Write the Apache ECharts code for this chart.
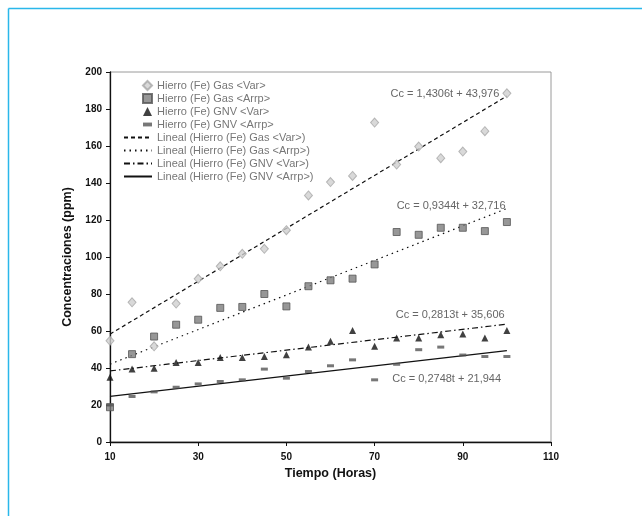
<!DOCTYPE html>
<html>
<head>
<meta charset="utf-8">
<script src="https://cdn.jsdelivr.net/npm/echarts@6/dist/echarts.min.js"></script>
<style>
html,body{margin:0;padding:0;background:#fff;}
#c{width:642px;height:516px;}
</style>
</head>
<body>
<div id="c"></div>
<script>
// ---- data ----
var tHours = [10,15,20,25,30,35,40,45,50,55,60,65,70,75,80,85,90,95,100];
var gasVar  = [54.7,75.5,51.7,74.8,88.2,95,101.7,104.4,114.5,133.3,140.5,143.8,172.7,150,159.7,153.4,157,168,188.5];
var gasArrp = [18.8,47.5,57,63.4,66.1,72.5,73,80,73.3,84.2,87.4,88.3,96,113.5,112,115.8,115.8,114,118.9];
var gnvVar  = [35,39.4,39.9,43,43,45.7,45.7,46.2,47.2,51.3,54.4,60.3,51.7,56.2,56.2,58,58.4,56.2,60.3];
var gnvArrp = [20,24.6,27.1,29.6,31.4,32.7,33.6,39.4,34.5,38.1,41.2,44.4,33.6,42,49.9,51.3,47,46.2,46.2];

var trendT = [10, 100];
var trendGasVar  = [58.3, 187.0];
var trendGasArrp = [42.1, 126.2];
var trendGnvVar  = [38.4, 63.7];
var trendGnvArrp = [24.7, 49.4];

var seriesNames = [
  'Hierro (Fe) Gas <Var>',
  'Hierro (Fe) Gas <Arrp>',
  'Hierro (Fe) GNV <Var>',
  'Hierro (Fe) GNV <Arrp>',
  'Lineal (Hierro (Fe) Gas <Var>)',
  'Lineal (Hierro (Fe) Gas <Arrp>)',
  'Lineal (Hierro (Fe) GNV <Var>)',
  'Lineal (Hierro (Fe) GNV <Arrp>)'
];
var equations = ['Cc = 1,4306t + 43,976','Cc = 0,9344t + 32,716','Cc = 0,2813t + 35,606','Cc = 0,2748t + 21,944'];
var eqAnchor = [[73.6,188],[75,127.4],[74.8,68.8],[74,34]];

var xTicks = {min:10, max:110, interval:20};
var yTicks = {min:0, max:200, interval:20};

function zip(xs, ys){ return xs.map(function(x,i){ return [x, ys[i]]; }); }

var FONT = 'Liberation Sans, Arial, sans-serif';

function trend(name, ys, dash, eqIdx){
  return {
    name: name, type: 'line', data: zip(trendT, ys), symbol: 'none', silent: true,
    color: '#111',
    lineStyle: {color: '#111', width: 1.2, type: dash},
    z: 1,
    markPoint: {
      symbol: 'circle', symbolSize: 0, silent: true,
      label: {show: true, position: 'right', distance: 0, formatter: equations[eqIdx],
              color: '#666', fontSize: 11, fontFamily: FONT},
      data: [{coord: eqAnchor[eqIdx]}]
    }
  };
}

var legendText = {color: '#777', fontSize: 11, fontFamily: FONT};

var chart = echarts.init(document.getElementById('c'), null, {renderer: 'canvas'});
chart.setOption({
  animation: false,
  backgroundColor: '#fff',
  grid: {left: 110, right: 91, top: 72, bottom: 74, show: true, borderColor: '#9a9a9a', borderWidth: 1},
  legend: [
    {
      orient: 'vertical', left: 142, top: 80, padding: 0, itemWidth: 9, itemHeight: 9, itemGap: 2,
      textStyle: legendText,
      data: [
        {name: seriesNames[0], icon: 'path://M0,-1L1,0L0,1L-1,0Z'},
        {name: seriesNames[1], icon: 'path://M0,0L1,0L1,1L0,1Z'},
        {name: seriesNames[2], icon: 'path://M0,-1L1,1L-1,1Z'},
        {name: seriesNames[3], icon: 'path://M0,0L7,0L7,3L0,3Z'}
      ]
    },
    {
      orient: 'vertical', left: 123, top: 132, padding: 0, itemWidth: 28, itemHeight: 9, itemGap: 2,
      textStyle: legendText,
      data: [4,5,6,7].map(function(i){ return {name: seriesNames[i], itemStyle: {opacity: 0}}; })
    }
  ],
  xAxis: {
    type: 'value', min: xTicks.min, max: xTicks.max, interval: xTicks.interval,
    splitLine: {show: false},
    axisLine: {lineStyle: {color: '#111', width: 1.3}},
    axisTick: {length: 4, lineStyle: {color: '#111'}},
    axisLabel: {color: '#111', fontWeight: 'bold', fontSize: 10, fontFamily: FONT, margin: 10},
    name: 'Tiempo (Horas)', nameLocation: 'middle', nameGap: 21,
    nameTextStyle: {color: '#111', fontWeight: 'bold', fontSize: 12.5, fontFamily: FONT}
  },
  yAxis: {
    type: 'value', min: yTicks.min, max: yTicks.max, interval: yTicks.interval,
    splitLine: {show: false},
    axisLine: {show: true, lineStyle: {color: '#111', width: 1.3}},
    axisTick: {show: true, length: 4, lineStyle: {color: '#111'}},
    axisLabel: {color: '#111', fontWeight: 'bold', fontSize: 10, fontFamily: FONT, margin: 8},
    name: 'Concentraciones (ppm)', nameLocation: 'middle', nameGap: 34,
    nameTextStyle: {color: '#111', fontWeight: 'bold', fontSize: 12.5, fontFamily: FONT}
  },
  series: [
    {name: seriesNames[0], type: 'scatter', data: zip(tHours, gasVar), symbol: 'diamond', symbolSize: [8,9],
     itemStyle: {color: '#cfcfcf', borderColor: '#a8a8a8', borderWidth: 1}, z: 3},
    {name: seriesNames[1], type: 'scatter', data: zip(tHours, gasArrp), symbol: 'rect', symbolSize: 7,
     itemStyle: {color: '#7d7d7d', borderColor: '#555', borderWidth: 1}, z: 3},
    {name: seriesNames[2], type: 'scatter', data: zip(tHours, gnvVar), symbol: 'triangle', symbolSize: 7,
     itemStyle: {color: '#111'}, z: 3},
    {name: seriesNames[3], type: 'scatter', data: zip(tHours, gnvArrp), symbol: 'rect', symbolSize: [7,3],
     itemStyle: {color: '#555'}, z: 3},
    trend(seriesNames[4], trendGasVar, [4,3], 0),
    trend(seriesNames[5], trendGasArrp, [1.5,4], 1),
    trend(seriesNames[6], trendGnvVar, [6,3,1.5,3], 2),
    trend(seriesNames[7], trendGnvArrp, 'solid', 3)
  ],
  graphic: [
    {type: 'line', shape: {x1: 8.5, y1: 8.5, x2: 642, y2: 8.5}, style: {stroke: '#2ab7ea', lineWidth: 1.5}, silent: true},
    {type: 'line', shape: {x1: 8.5, y1: 8.5, x2: 8.5, y2: 516}, style: {stroke: '#2ab7ea', lineWidth: 1.5}, silent: true}
  ]
});
</script>
</body>
</html>
